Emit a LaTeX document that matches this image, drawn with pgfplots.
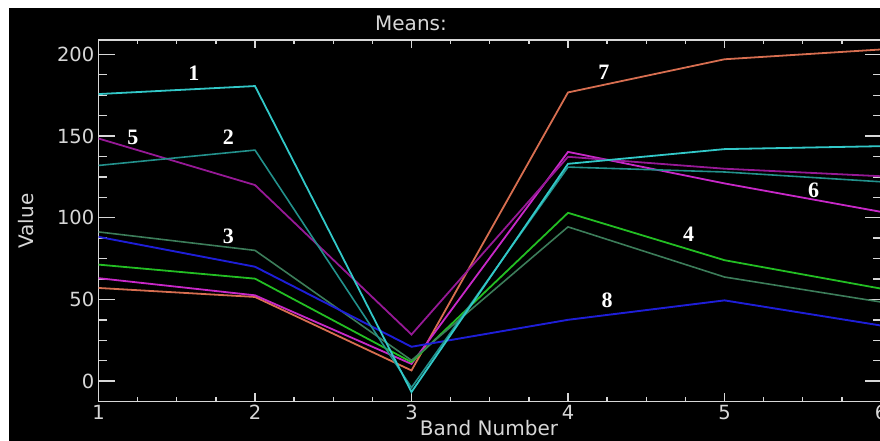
\documentclass[border=0pt]{standalone}
\usepackage{fontspec}
\setmainfont{DejaVu Sans}
\newfontfamily\lab{Liberation Serif}
\usepackage{pgfplots}
\pgfplotsset{compat=1.18}
\definecolor{c1}{RGB}{50,200,200}
\definecolor{c2}{RGB}{35,145,140}
\definecolor{c3}{RGB}{60,125,90}
\definecolor{c4}{RGB}{35,190,35}
\definecolor{c5}{RGB}{150,25,150}
\definecolor{c6}{RGB}{200,40,200}
\definecolor{c7}{RGB}{215,110,80}
\definecolor{c8}{RGB}{30,30,215}
\definecolor{fg}{RGB}{215,215,215}
\begin{document}
\begin{tikzpicture}[x=1pt,y=1pt]
\useasboundingbox (0,0) rectangle (880,441);
\fill[white] (0,0) rectangle (880,441);
\fill[black] (9,0) rectangle (880,433);
\begin{scope}
\clip (0,0) rectangle (880,441);
\begin{axis}[
  at={(98.5pt,39.5pt)}, anchor=south west,
  scale only axis, width=782.5pt, height=361.5pt,
  xmin=1, xmax=6, ymin=-12.5, ymax=208.8,
  xtick={1,2,3,4,5,6}, ytick={0,50,100,150,200},
  minor x tick num=3, minor y tick num=3,
  tick align=inside,
  axis line style={draw=fg, line width=1.4pt},
  tick style={draw=fg, line width=1.4pt},
  every major x tick/.append style={/pgfplots/major tick length=8pt},
  every minor x tick/.append style={/pgfplots/minor tick length=4pt},
  every major y tick/.append style={/pgfplots/major tick length=16pt},
  every minor y tick/.append style={/pgfplots/minor tick length=8pt},
  /pgf/number format/assume math mode=true,
  ticklabel style={font=\fontsize{19.5}{19.5}\selectfont, text=fg},
  yticklabel style={inner sep=4pt},
  scaled y ticks=false,
]
\addplot[c7, line width=1.8pt] coordinates {(1,57)(2,51.5)(3,6.5)(4,176.7)(5,197)(6,203)};
\addplot[c6, line width=1.8pt] coordinates {(1,63)(2,52.5)(3,10.5)(4,140.3)(5,121)(6,103.6)};
\addplot[c4, line width=1.8pt] coordinates {(1,71.3)(2,62.7)(3,11.6)(4,103)(5,74)(6,56.6)};
\addplot[c3, line width=1.6pt] coordinates {(1,91.3)(2,80)(3,12.7)(4,94.4)(5,63.7)(6,48.4)};
\addplot[c8, line width=1.9pt] coordinates {(1,88.3)(2,70)(3,21)(4,37.5)(5,49.4)(6,34)};
\addplot[c5, line width=1.8pt] coordinates {(1,148.5)(2,120)(3,28.5)(4,137.3)(5,130)(6,125.4)};
\addplot[c2, line width=1.6pt] coordinates {(1,132)(2,141.4)(3,-4)(4,131)(5,128)(6,122)};
\addplot[c1, line width=1.8pt] coordinates {(1,175.7)(2,180.6)(3,-6.7)(4,133)(5,142)(6,143.8)};
\begin{scope}[every node/.style={text=white, font=\lab\fontsize{22}{22}\selectfont\bfseries}]
\node at (axis cs:1.61,188.5) {1};
\node at (axis cs:1.83,149) {2};
\node at (axis cs:1.83,88.6) {3};
\node at (axis cs:4.77,90) {4};
\node at (axis cs:1.22,149) {5};
\node at (axis cs:5.57,117) {6};
\node at (axis cs:4.23,189) {7};
\node at (axis cs:4.25,49.4) {8};
\end{scope}
\end{axis}
\end{scope}
\node[text=fg, font=\fontsize{20}{20}\selectfont, anchor=base] at (411,410) {Means:};
\node[text=fg, font=\fontsize{20}{20}\selectfont, anchor=base] at (489,5) {Band Number};
\node[text=fg, font=\fontsize{20}{20}\selectfont, rotate=90, anchor=base] at (33,220) {Value};
\end{tikzpicture}
\end{document}
